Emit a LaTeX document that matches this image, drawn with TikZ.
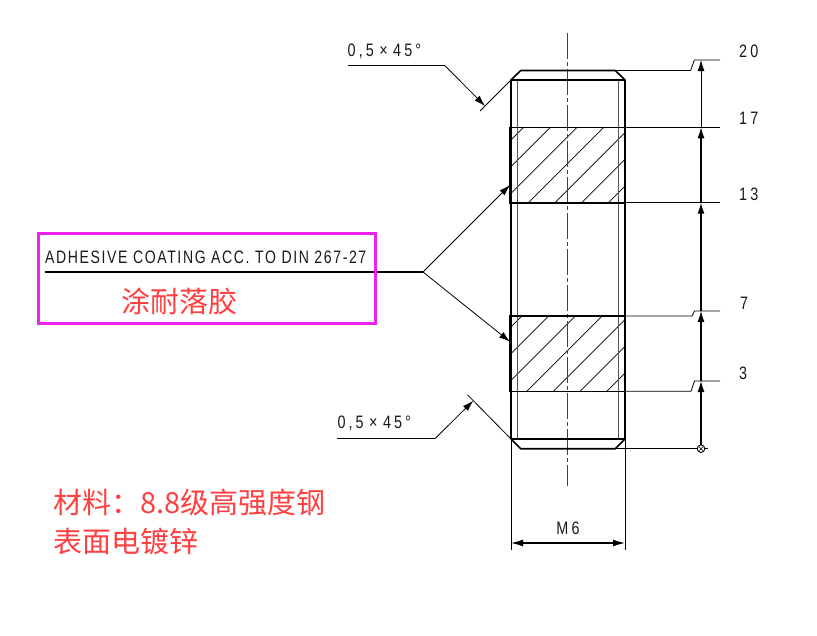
\documentclass[tikz,border=0pt]{standalone}
\usepackage{fontspec}
\usetikzlibrary{arrows.meta}
\setmainfont{Liberation Sans}
\newfontfamily\drawfont[FakeStretch=0.78,LetterSpace=9]{Liberation Sans}
\newfontfamily\dimfont[FakeStretch=0.8,LetterSpace=17]{Liberation Sans}
\newfontfamily\cjkfont{Noto Sans CJK SC}
\definecolor{redtxt}{HTML}{FF4040}
\definecolor{boxmag}{HTML}{F020EE}
\definecolor{inktxt}{HTML}{1A1A1A}
\tikzset{
  thick line/.style={line width=1.6pt,black},
  thin line/.style={line width=0.8pt,black},
  mid line/.style={line width=1.2pt,black},
  hatch line/.style={line width=0.7pt,black},
  arrowed/.style={-{Latex[length=11pt,width=7pt]}},
  dimtext/.style={font=\fontsize{18}{20}\dimfont,text=inktxt,inner sep=0pt},
  redtext/.style={font=\fontsize{29}{32}\cjkfont,text=redtxt,inner sep=0pt,anchor=west},
}
\begin{document}
\begin{tikzpicture}[x=1pt,y=-1pt]
\useasboundingbox (0,0) rectangle (817,635);
\fill[white] (0,0) rectangle (817,635);

% hatching
\foreach \yb/\xo in {202.7/528.3,391.3/526.7}{
  \begin{scope}
    \clip (511,\yb-75.4) rectangle (625,\yb);
    \foreach \k in {-3,...,3}{
      \draw[hatch line] ({\xo+26.7*\k},\yb) -- ++(75.4,-75.4);
    }
  \end{scope}
}

% centre line
\coordinate (ctop) at (567.7,33);
\coordinate (cbot) at (567.7,486);
\draw[line width=0.7pt,black!75,dash pattern=on 26pt off 3pt on 4pt off 3pt] (ctop) -- (cbot);

% thread lines
\draw[line width=0.8pt,black!65] (517.5,80) -- (517.5,439);
\draw[line width=0.8pt,black!65] (618.7,80) -- (618.7,439);

% body
\coordinate (tl) at (511,80);
\coordinate (tr) at (625,80);
\coordinate (bl) at (511,439);
\coordinate (br) at (625,439);
\draw[thick line,line join=round] (tl) -- (520.7,70.5) -- (615.3,70.5) -- (tr) -- (br) -- (615.3,448.7) -- (520.7,448.7) -- (bl) -- cycle;
\draw[thick line] (tl) -- (tr);
\draw[thick line] (bl) -- (br);
\draw[thick line] (510,127.3) rectangle (625.5,202.7);
\draw[thick line] (510,316) rectangle (625.5,391.3);

% extension lines right
\coordinate (d20) at (701,60);
\coordinate (d17) at (701,127.3);
\coordinate (d13) at (701,202.7);
\coordinate (d7) at (701,311);
\coordinate (d3) at (701,381);
\coordinate (d0) at (701,448.7);
\draw[thin line] (615.3,70.5) -- (690.7,70.5) -- (694.3,60) -- (720,60);
\draw[thin line] (625,127.3) -- (720,127.3);
\draw[thin line] (625,202.7) -- (720,202.7);
\draw[thin line] (625,316) -- (692,316) -- (694.5,311) -- (720,311);
\draw[thin line] (625,391.3) -- (691,391.3) -- (694.5,381) -- (720,381);
\draw[thin line] (615.3,448.7) -- (708,448.7);

% vertical dimension
\draw[thin line,arrowed] (d17) -- (d20);
\draw[mid line,arrowed] (d13) -- (d17);
\draw[mid line,arrowed] (d7) -- (d13);
\draw[mid line,arrowed] (d3) -- (d7);
\draw[mid line,arrowed] (d0) -- (d3);
\fill[white] (d0) circle (3.6);
\draw[line width=0.9pt,black] (d0) circle (3.8);
\draw[line width=0.6pt,black] (699,446.7) -- (703,450.7) (699,450.7) -- (703,446.7);

% dimension labels
\node[dimtext,anchor=west] (t20) at (739,51) {20};
\node[dimtext,anchor=west] (t17) at (739,118) {17};
\node[dimtext,anchor=west] (t13) at (739,194) {13};
\node[dimtext,anchor=west] (t7) at (740,303) {7};
\node[dimtext,anchor=west] (t3) at (739,373) {3};

% M6
\coordinate (m6l) at (511,543);
\coordinate (m6r) at (625,543);
\draw[thin line] (bl) -- (511,550);
\draw[thin line] (br) -- (625,550);
\draw[mid line,{Latex[length=12pt,width=7pt]}-{Latex[length=12pt,width=7pt]}] (m6l) -- (m6r);
\node[dimtext] (tm6) at (568,528) {M6};

% top chamfer callout
\coordinate (a1) at (347.5,65.7);
\coordinate (a2) at (445,65.7);
\coordinate (a3) at (485,106);
\draw[thin line] (tl) -- (480,111);
\draw[thin line] (a1) -- (a2);
\draw[thin line,arrowed] (a2) -- (a3);
\node[dimtext,anchor=west] (tc1) at (347.5,51) {0,5\hspace{5.5pt}×\hspace{5.5pt}45°};

% bottom chamfer callout
\coordinate (b1) at (337.3,438.7);
\coordinate (b2) at (435,438.7);
\coordinate (b3) at (473.3,400.7);
\draw[thin line] (bl) -- (467.7,395);
\draw[thin line] (b1) -- (b2);
\draw[thin line,arrowed] (b2) -- (b3);
\node[dimtext,anchor=west] (tc2) at (337.3,423) {0,5\hspace{5.5pt}×\hspace{5.5pt}45°};

% adhesive callout
\coordinate (c1) at (45,272);
\coordinate (c2) at (423,272);
\coordinate (c3) at (510,185);
\coordinate (c4) at (510,341.7);
\draw[mid line] (c1) -- (c2);
\draw[thin line,arrowed] (c2) -- (c3);
\draw[thin line,arrowed] (c2) -- (c4);
\node[inner sep=0pt,anchor=west,font=\fontsize{18}{20}\drawfont,text=inktxt] (tadh) at (45,257) {ADHESIVE COATING ACC. TO DIN 267-27};

% magenta box
\node[draw=boxmag,line width=3pt,outer sep=0pt,minimum width=336.8pt,minimum height=89.5pt,inner sep=0pt,anchor=north west] (box) at (38.5,233.5) {};

% red notes
\node[redtext] (rcoat) at (121,301) {涂耐落胶};
\node[redtext] (rmat) at (53,503) {材料^^^^ff1a8.8级高强度钢};
\node[redtext] (rsurf) at (53,541) {表面电镀锌};
\end{tikzpicture}
\end{document}
